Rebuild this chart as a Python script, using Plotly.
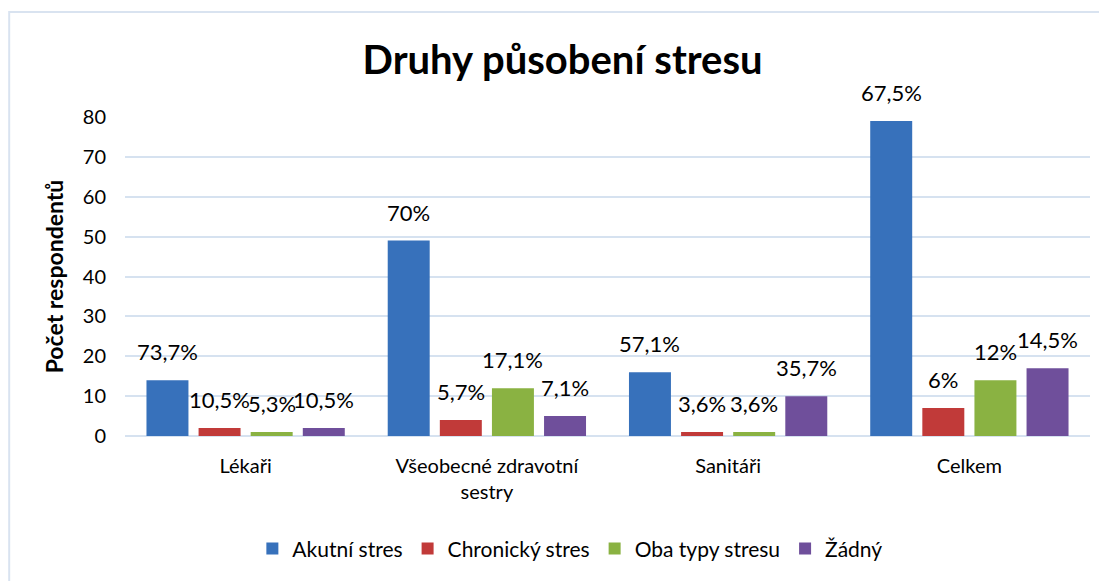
import plotly.graph_objects as go

FONT = 'Lato'
GRID_COLOR = '#d6e2f0'

categories = ['Lékaři', 'Všeobecné zdravotní<br>sestry', 'Sanitáři', 'Celkem']
series_names = ['Akutní stres', 'Chronický stres', 'Oba typy stresu', 'Žádný']

akutni = [14, 49, 16, 79]
chronicky = [2, 4, 1, 7]
oba = [1, 12, 1, 14]
zadny = [2, 5, 10, 17]

akutni_pct = ['73,7%', '70%', '57,1%', '67,5%']
chronicky_pct = ['10,5%', '5,7%', '3,6%', '6%']
oba_pct = ['5,3%', '17,1%', '3,6%', '12%']
zadny_pct = ['10,5%', '7,1%', '35,7%', '14,5%']

colours = ['#3771bb', '#c13a39', '#8ab242', '#6f4f9b']

# group geometry in category units (1 category = 1.0)
BAR_W = 0.174
SLOT = 0.216
START = -0.411

xs = list(range(len(categories)))

fig = go.Figure()
annotations = []
for k, (name, vals, pct, col) in enumerate(zip(series_names,
                                               [akutni, chronicky, oba, zadny],
                                               [akutni_pct, chronicky_pct, oba_pct, zadny_pct],
                                               colours)):
    off = START + k * SLOT
    fig.add_trace(go.Bar(
        x=xs, y=vals, name=name, offset=off, width=BAR_W,
        marker_color=col, marker_line_width=0,
    ))
    for x, v, t in zip(xs, vals, pct):
        annotations.append(dict(x=x + off + BAR_W / 2, y=v, xref='x', yref='y', text=t,
                                showarrow=False, yanchor='bottom', yshift=13,
                                font=dict(family=FONT, size=22, color='#000000')))

fig.update_layout(
    width=1107, height=581,
    barmode='overlay',
    paper_bgcolor='white', plot_bgcolor='white',
    font=dict(family=FONT, size=20, color='#000000'),
    title=dict(text='<b>Druhy působení stresu</b>', x=0.501, xanchor='center',
               y=0.91, yanchor='middle', font=dict(family=FONT, size=40)),
    margin=dict(l=117, r=25, t=109, b=153),
    legend=dict(orientation='h', x=0.461, xanchor='center', y=-0.354, yanchor='middle',
                font=dict(family=FONT, size=21), itemwidth=30, traceorder='normal'),
    annotations=annotations,
    shapes=[dict(type='rect', xref='paper', yref='paper',
                 x0=-0.12, x1=1.05, y0=-0.6, y1=1.329,
                 line=dict(color='#d9e3f0', width=2), layer='below')],
)

fig.update_yaxes(range=[0, 80], dtick=10, showgrid=True, gridcolor=GRID_COLOR, gridwidth=2,
                 zeroline=True, zerolinecolor=GRID_COLOR, zerolinewidth=2,
                 showline=False, ticks='', ticklen=0, ticklabelstandoff=18,
                 title=dict(text='<b>Počet respondentů</b>', font=dict(family=FONT, size=23),
                            standoff=12),
                 tickfont=dict(family=FONT, size=20))
fig.update_xaxes(range=[-0.5, len(categories) - 0.5], tickvals=xs, ticktext=categories,
                 showgrid=False, showline=False, ticks='', zeroline=False,
                 ticklabelstandoff=16,
                 tickfont=dict(family=FONT, size=20))

fig.write_html('out.html')
